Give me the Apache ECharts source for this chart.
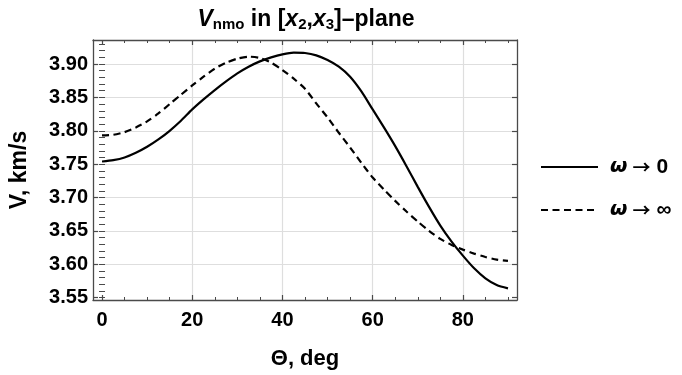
<!DOCTYPE html>
<html>
<head>
<meta charset="utf-8">
<script src="https://cdn.jsdelivr.net/npm/echarts@6/dist/echarts.min.js"></script>
<style>html,body{margin:0;padding:0;background:#fff}#c{width:682px;height:375px}</style>
</head>
<body>
<div id="c"></div>
<script>
// Data
const theta = [0, 2.5, 5, 7.5, 10, 12.5, 15, 17.5, 20, 22.5, 25, 27.5, 30, 32.5, 35, 37.5, 40, 42.5, 45, 47.5, 50, 52.5, 55, 57.5, 60, 62.5, 65, 67.5, 70, 72.5, 75, 77.5, 80, 82.5, 85, 87.5, 90];
const vZero = [3.754, 3.756, 3.760, 3.767, 3.776, 3.787, 3.800, 3.815, 3.832, 3.847, 3.861, 3.874, 3.886, 3.896, 3.904, 3.910, 3.9145, 3.917, 3.9165, 3.913, 3.906, 3.896, 3.881, 3.859, 3.832, 3.805, 3.777, 3.747, 3.716, 3.686, 3.658, 3.634, 3.613, 3.594, 3.579, 3.569, 3.564];
const vInf  = [3.793, 3.794, 3.798, 3.805, 3.814, 3.826, 3.840, 3.854, 3.868, 3.881, 3.893, 3.902, 3.908, 3.911, 3.909, 3.902, 3.891, 3.878, 3.863, 3.841, 3.820, 3.797, 3.775, 3.752, 3.730, 3.712, 3.695, 3.679, 3.664, 3.650, 3.638, 3.629, 3.622, 3.616, 3.611, 3.607, 3.605];
const seriesNames = ['ω → 0', 'ω → ∞'];
const xMajorTicks = [0, 20, 40, 60, 80];
const xMinorTicks = [0, 5, 10, 15, 20, 25, 30, 35, 40, 45, 50, 55, 60, 65, 70, 75, 80, 85, 90];
const xGridTicks = [20, 40, 60, 80];
const yMajorTicks = [3.55, 3.60, 3.65, 3.70, 3.75, 3.80, 3.85, 3.90];
const yMinorTicks = [3.55,3.56,3.57,3.58,3.59,3.60,3.61,3.62,3.63,3.64,3.65,3.66,3.67,3.68,3.69,3.70,3.71,3.72,3.73,3.74,3.75,3.76,3.77,3.78,3.79,3.80,3.81,3.82,3.83,3.84,3.85,3.86,3.87,3.88,3.89,3.90,3.91,3.92,3.93];
const yGridTicks = [3.60, 3.65, 3.70, 3.75, 3.80, 3.85, 3.90];
const xRange = [-2, 92];
const yRange = [3.5465, 3.936];

const FONT = 'Liberation Sans, Arial, sans-serif';
const SYMFONT = 'DejaVu Sans, sans-serif';
const CJKFONT = 'Noto Sans CJK SC, sans-serif';
const FRAME = '#4a4a4a';
const GRIDC = '#dedede';

function xAx(opts) {
  return Object.assign({
    type: 'value', min: xRange[0], max: xRange[1], position: 'bottom',
    axisLine: { show: false }, axisTick: { show: false }, axisLabel: { show: false },
    splitLine: { show: false }
  }, opts);
}
function yAx(opts) {
  return Object.assign({
    type: 'value', min: yRange[0], max: yRange[1], position: 'left',
    axisLine: { show: false }, axisTick: { show: false }, axisLabel: { show: false },
    splitLine: { show: false }
  }, opts);
}

const chart = echarts.init(document.getElementById('c'), null, { renderer: 'canvas' });
chart.setOption({
  animation: false,
  backgroundColor: '#fff',
  title: {
    text: '{vi|V}{sub|nmo}{b| in [}{vi|x}{sub|2}{b|,}{vi|x}{sub|3}{b|]–plane}',
    left: 301, top: 1, textAlign: 'center',
    textStyle: {
      rich: {
        vi: { fontFamily: FONT, fontSize: 23, fontWeight: 'bold', fontStyle: 'italic', color: '#000', lineHeight: 28 },
        b: { fontFamily: FONT, fontSize: 23, fontWeight: 'bold', color: '#000', lineHeight: 28 },
        sub: { fontFamily: FONT, fontSize: 15, fontWeight: 'bold', color: '#000', lineHeight: 28, padding: [10, 0, 0, 0] }
      }
    }
  },
  legend: {
    orient: 'vertical', left: 535, top: 150,
    itemWidth: 57, itemHeight: 14, itemGap: 19,
    data: seriesNames,
    itemStyle: { color: 'rgba(0,0,0,0)', borderColor: 'rgba(0,0,0,0)', borderWidth: 0 },
    formatter: name => {
      const parts = name.split(' ');
      return '{w|' + parts[0] + '}{a|' + parts[1] + '}{n|' + parts[2] + '}';
    },
    textStyle: {
      fontFamily: FONT, fontSize: 20, fontWeight: 'bold', color: '#000', lineHeight: 24, padding: [0, 0, 0, 7],
      rich: {
        w: { fontFamily: SYMFONT, fontSize: 20, fontWeight: 'bold', fontStyle: 'italic', color: '#000', lineHeight: 24 },
        a: { fontFamily: CJKFONT, fontSize: 18, fontWeight: 'bold', color: '#000', lineHeight: 24, padding: [0, 6, 0, 5] },
        n: { fontFamily: FONT, fontSize: 21, fontWeight: 'bold', color: '#000', lineHeight: 24 }
      }
    }
  },
  grid: { left: 92, right: 165, top: 40, bottom: 73, containLabel: false },
  xAxis: [
    xAx({
      axisLine: { show: true, onZero: false, lineStyle: { color: FRAME, width: 1.3 } },
      axisTick: { show: true, inside: true, length: 5, customValues: xMajorTicks, lineStyle: { color: FRAME, width: 1.2 } },
      axisLabel: { show: true, customValues: xMajorTicks, margin: 10, fontFamily: FONT, fontSize: 20, fontWeight: 'bold', color: '#000' },
      name: 'Θ, deg', nameLocation: 'middle', nameGap: 48,
      nameTextStyle: { fontFamily: FONT, fontSize: 22, fontWeight: 'bold', color: '#000' }
    }),
    xAx({ axisTick: { show: true, inside: true, length: 3, customValues: xMinorTicks, lineStyle: { color: FRAME, width: 1 } } }),
    xAx({ position: 'top',
      axisLine: { show: true, onZero: false, lineStyle: { color: FRAME, width: 1.3 } },
      axisTick: { show: true, inside: true, length: 5, customValues: xMajorTicks, lineStyle: { color: FRAME, width: 1.2 } } }),
    xAx({ position: 'top', axisTick: { show: true, inside: true, length: 3, customValues: xMinorTicks, lineStyle: { color: FRAME, width: 1 } } }),
    xAx({ axisTick: { show: false, customValues: xGridTicks },
      splitLine: { show: true, lineStyle: { color: GRIDC, width: 1.2 } } })
  ],
  yAxis: [
    yAx({
      axisLine: { show: true, onZero: false, lineStyle: { color: FRAME, width: 1.3 } },
      axisTick: { show: true, inside: true, length: 5, customValues: yMajorTicks, lineStyle: { color: FRAME, width: 1.2 } },
      axisLabel: { show: true, customValues: yMajorTicks, margin: 5, fontFamily: FONT, fontSize: 20, fontWeight: 'bold', color: '#000',
        formatter: v => v.toFixed(2) },
      name: 'V, km/s', nameLocation: 'middle', nameGap: 62, nameRotate: 90,
      nameTextStyle: { fontFamily: FONT, fontSize: 23, fontWeight: 'bold', color: '#000' }
    }),
    yAx({ axisTick: { show: true, inside: true, length: 3, customValues: yMinorTicks, lineStyle: { color: FRAME, width: 1 } } }),
    yAx({ position: 'right',
      axisLine: { show: true, onZero: false, lineStyle: { color: FRAME, width: 1.3 } },
      axisTick: { show: true, inside: true, length: 5, customValues: yMajorTicks, lineStyle: { color: FRAME, width: 1.2 } } }),
    yAx({ position: 'right', axisTick: { show: true, inside: true, length: 3, customValues: yMinorTicks, lineStyle: { color: FRAME, width: 1 } } }),
    yAx({ axisTick: { show: false, customValues: yGridTicks },
      splitLine: { show: true, lineStyle: { color: GRIDC, width: 1.2 } } })
  ],
  series: [
    { name: seriesNames[0], type: 'line', xAxisIndex: 0, yAxisIndex: 0, showSymbol: false, symbol: 'none', smooth: 0.25,
      data: theta.map((t, i) => [t, vZero[i]]),
      lineStyle: { color: '#000', width: 2.2, type: 'solid' }, itemStyle: { color: '#000' } },
    { name: seriesNames[1], type: 'line', xAxisIndex: 0, yAxisIndex: 0, showSymbol: false, symbol: 'none', smooth: 0.25,
      data: theta.map((t, i) => [t, vInf[i]]),
      lineStyle: { color: '#000', width: 2.2, type: [7, 4.5] }, itemStyle: { color: '#000' } }
  ]
});
</script>
</body>
</html>
